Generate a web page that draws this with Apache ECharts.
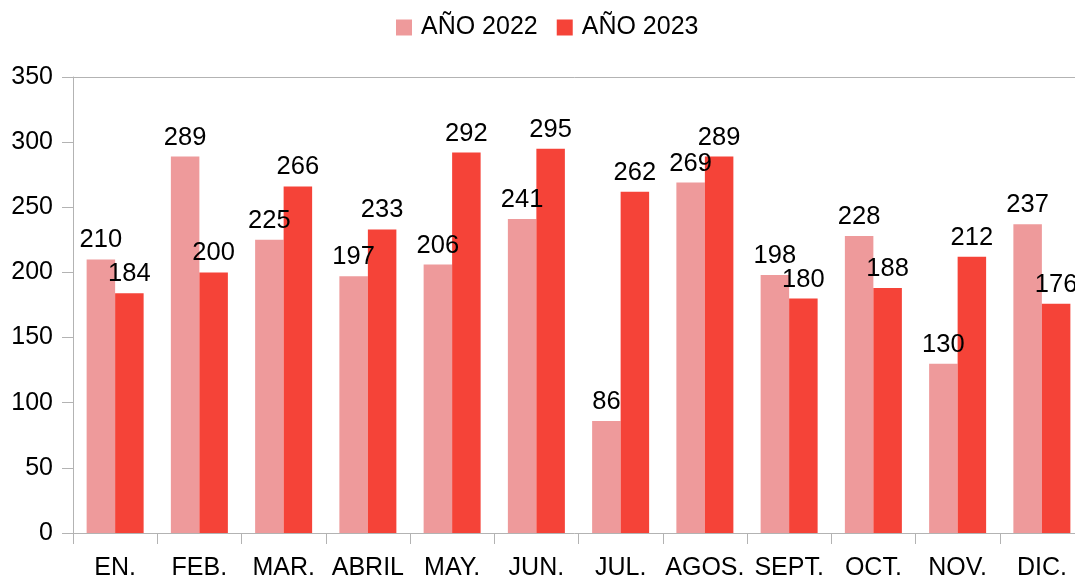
<!DOCTYPE html>
<html>
<head>
<meta charset="utf-8">
<script src="https://cdn.jsdelivr.net/npm/echarts@6/dist/echarts.min.js"></script>
<style>
  html, body { margin: 0; padding: 0; background: #fff; }
  #chart { width: 1075px; height: 579px; }
</style>
</head>
<body>
<div id="chart"></div>
<script>
const months = ["EN.", "FEB.", "MAR.", "ABRIL", "MAY.", "JUN.", "JUL.", "AGOS.", "SEPT.", "OCT.", "NOV.", "DIC."];
const values2022 = [210, 289, 225, 197, 206, 241, 86, 269, 198, 228, 130, 237];
const values2023 = [184, 200, 266, 233, 292, 295, 262, 289, 180, 188, 212, 176];
const seriesNames = ["AÑO 2022", "AÑO 2023"];

const font = "'Liberation Sans', Arial, sans-serif";
const axisColor = "#b3b3b3";

const chart = echarts.init(document.getElementById("chart"));

// etiqueta de valor encima de cada barra
const barLabel = {
  show: true,
  position: "top",
  distance: 6,
  color: "#000",
  fontSize: 25.5,
  fontFamily: font
};

chart.setOption({
  animation: false,
  color: ["#ee9a9b", "#f54338"],
  legend: {
    top: 10,
    left: 391,
    itemWidth: 16,
    itemHeight: 16,
    itemGap: 19,
    icon: "rect",
    textStyle: { color: "#000", fontSize: 25, fontFamily: font, padding: [0, 0, 0, 4] },
    data: seriesNames
  },
  grid: { left: 73, right: -9, top: 77, bottom: 46, outerBoundsMode: "none" },
  xAxis: [
    {
      type: "category",
      data: months,
      axisLine: { lineStyle: { color: axisColor } },
      axisTick: { show: true, length: 11, lineStyle: { color: axisColor } },
      axisLabel: { color: "#000", fontSize: 25, fontFamily: font, margin: 23, interval: 0 },
      splitLine: { show: false }
    },
    {
      // borde superior del área
      type: "category",
      data: months,
      position: "top",
      axisLine: { show: true, lineStyle: { color: axisColor } },
      axisTick: { show: false },
      axisLabel: { show: false }
    }
  ],
  yAxis: {
    type: "value",
    min: 0,
    max: 350,
    interval: 50,
    axisLine: { show: true, lineStyle: { color: axisColor } },
    axisTick: { show: true, length: 11, lineStyle: { color: axisColor } },
    axisLabel: { color: "#000", fontSize: 25, fontFamily: font, margin: 20 },
    splitLine: { show: false }
  },
  series: [
    {
      name: seriesNames[0],
      type: "bar",
      barWidth: 28.5,
      barGap: "0%",
      label: barLabel,
      data: values2022
    },
    {
      name: seriesNames[1],
      type: "bar",
      barWidth: 28.5,
      barGap: "0%",
      label: barLabel,
      data: values2023
    }
  ]
});
</script>
</body>
</html>
